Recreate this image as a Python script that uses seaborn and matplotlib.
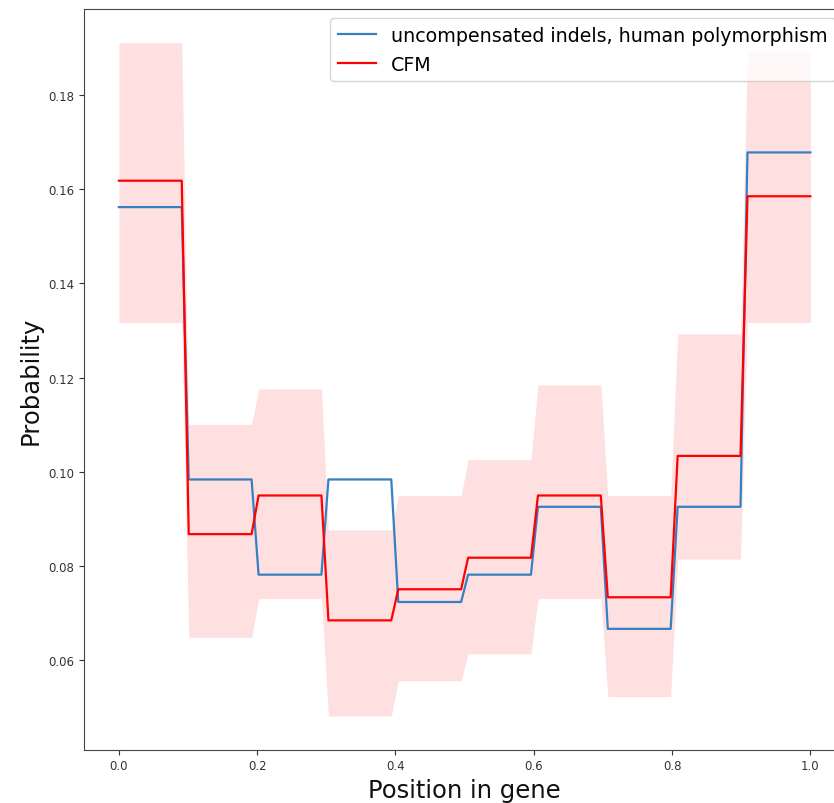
import numpy as np
import pandas as pd
import matplotlib
matplotlib.use('Agg')
import matplotlib.pyplot as plt
import seaborn as sns

# per-decile values (10 bins along the gene)
human = [0.1562, 0.0984, 0.0782, 0.0984, 0.0724, 0.0782, 0.0926, 0.0667, 0.0926, 0.1678]
cfm = [0.1618, 0.0868, 0.0950, 0.0685, 0.0751, 0.0818, 0.0950, 0.0734, 0.1034, 0.1585]
cfm_lo = [0.1317, 0.0649, 0.0731, 0.0482, 0.0557, 0.0614, 0.0731, 0.0523, 0.0815, 0.1317]
cfm_hi = [0.1911, 0.1101, 0.1176, 0.0877, 0.0950, 0.1026, 0.1185, 0.0950, 0.1293, 0.1893]

n_per_bin = 10
pos = np.linspace(0, 1, len(human) * n_per_bin)

df = pd.DataFrame({
    'pos': pos,
    'human': np.repeat(human, n_per_bin),
    'cfm': np.repeat(cfm, n_per_bin),
    'lo': np.repeat(cfm_lo, n_per_bin),
    'hi': np.repeat(cfm_hi, n_per_bin),
})

fig = plt.figure(figsize=(8.34, 8.04), dpi=100)
ax = fig.add_axes([0.1011, 0.0663, 0.912, 0.9213])

ax.fill_between(df['pos'], df['lo'], df['hi'], color='red', alpha=0.12, linewidth=0)
sns.lineplot(data=df, x='pos', y='human', color='#3580c2', linewidth=1.6,
             label='uncompensated indels, human polymorphism', ax=ax, estimator=None, sort=False)
sns.lineplot(data=df, x='pos', y='cfm', color='red', linewidth=1.6,
             label='CFM', ax=ax, estimator=None, sort=False)

ax.set_xlabel('Position in gene', fontsize=17.5, color='#111111')
ax.set_ylabel('Probability', fontsize=17.5, color='#111111')
ax.tick_params(labelsize=8.5, colors='#333333')
for s in ax.spines.values():
    s.set_color('#444444')

ax.legend(loc='upper right', fontsize=13.7)

fig.savefig('out.png', dpi=100)
